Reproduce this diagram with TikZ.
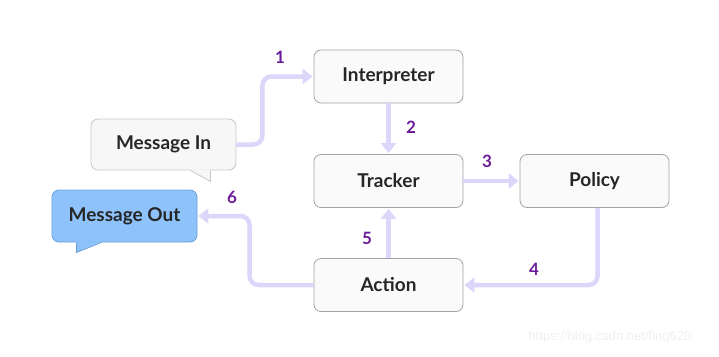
\documentclass[tikz,border=0pt]{standalone}
\usepackage{fontspec}
\setmainfont{Lato}
\newfontfamily\wmfont{Liberation Sans}
\usetikzlibrary{arrows.meta,positioning}

\definecolor{flowline}{HTML}{DCD6FB}
\definecolor{steptxt}{HTML}{6A1B9A}
\definecolor{boxline}{HTML}{A3A3A3}
\definecolor{boxfill}{HTML}{FAFAFA}
\definecolor{outfill}{HTML}{8EC2FA}
\definecolor{outline}{HTML}{6C9FD8}

\begin{document}
\begin{tikzpicture}[
  x=1pt, y=-1pt,
  font=\fontsize{19}{21}\selectfont\bfseries,
  comp/.style={draw=boxline,fill=boxfill,line width=0.8pt,rounded corners=7pt,
    minimum width=149pt,minimum height=53pt,inner sep=0pt,text=black!85},
  bubblein/.style={comp,draw=black!22,fill=black!3,minimum width=145pt,minimum height=51pt},
  bubbleout/.style={comp,draw=outline,fill=outfill,minimum width=145pt,minimum height=52pt},
  flow/.style={draw=flowline,line width=4.5pt,rounded corners=9pt,
    -{Triangle[length=10pt,width=15pt]},shorten >=1pt},
  num/.style={text=steptxt,font=\fontsize{17}{19}\selectfont\bfseries},
]
\useasboundingbox (0,0) rectangle (719,356);

% ===== components =====
\node[comp] (interp)  at (388.5, 76.5) {Interpreter};
\node[comp] (tracker) at (388.5,181)   {Tracker};
\node[comp] (policy)  at (594.5,181)   {Policy};
\node[comp] (action)  at (388.5,285)   {Action};

% ===== speech bubbles =====
\node[bubblein]  (msgin)  at (163.5,144.5) {Message In};
\fill[black!3] ([xshift=-47pt,yshift=1pt]msgin.south east) -- ([xshift=-26pt,yshift=-11pt]msgin.south east)
  -- ([xshift=-26pt,yshift=1pt]msgin.south east) -- cycle;
\draw[black!22,line width=0.8pt] ([xshift=-46pt]msgin.south east) -- ([xshift=-26pt,yshift=-11pt]msgin.south east)
  -- ([xshift=-26pt]msgin.south east);

\node[bubbleout] (msgout) at (124.5,216) {Message Out};
\fill[outfill] ([xshift=25pt,yshift=1pt]msgout.south west) -- ([xshift=25pt,yshift=-10pt]msgout.south west)
  -- ([xshift=51pt,yshift=1pt]msgout.south west) -- cycle;
\draw[outline,line width=0.8pt] ([xshift=25pt]msgout.south west) -- ([xshift=25pt,yshift=-10pt]msgout.south west)
  -- ([xshift=50pt]msgout.south west);

% ===== flow =====
\draw[flow] (msgin.east) -- ([xshift=26pt]msgin.east) |- (interp.west);
\draw[flow] (interp.south) -- (tracker.north);
\draw[flow] (tracker.east) -- (policy.west);
\draw[flow] ([xshift=3pt]policy.south) |- (action.east);
\draw[flow] (action.north) -- (tracker.south);
\draw[flow] (action.west) -- ([xshift=-64pt]action.west) |- (msgout.east);

\node[num] (n1) at (280,57)  {1};
\node[num] (n2) at (411,127) {2};
\node[num] (n3) at (487,161) {3};
\node[num] (n4) at (534,269) {4};
\node[num] (n5) at (367,238) {5};
\node[num] (n6) at (232,197) {6};

\node[font=\wmfont\fontsize{13}{15}\selectfont,text=black!6] (wm) at (610,337) {https://blog.csdn.net/fing620};
\end{tikzpicture}
\end{document}
